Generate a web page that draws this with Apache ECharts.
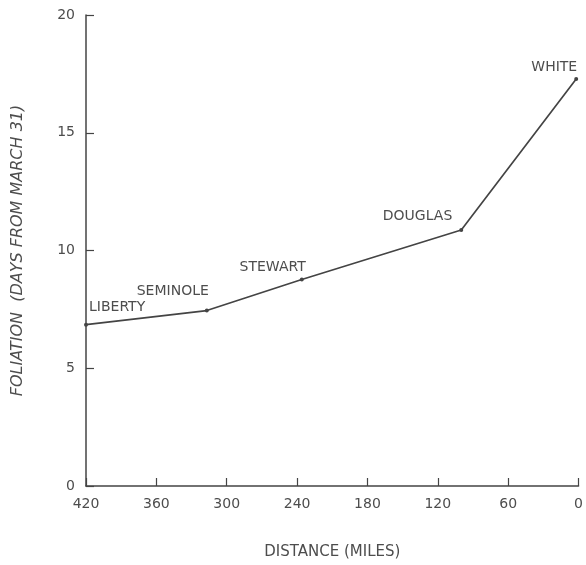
<!DOCTYPE html>
<html>
<head>
<meta charset="utf-8">
<script src="https://cdn.jsdelivr.net/npm/echarts@6/dist/echarts.min.js"></script>
<style>html,body{margin:0;padding:0;background:#fff;}#c{width:586px;height:565px;}</style>
</head>
<body>
<div id="c"></div>
<script>
// Data
var stations = ['LIBERTY', 'SEMINOLE', 'STEWART', 'DOUGLAS', 'WHITE'];
var distanceMiles = [420, 317, 236, 100, 2];
var foliationDays = [6.85, 7.45, 8.77, 10.87, 17.28];
var xTicks = [420, 360, 300, 240, 180, 120, 60, 0];
var yTicks = [0, 5, 10, 15, 20];

// Label placement (styling)
var labelPlacement = {
  'LIBERTY':  {align: 'left',  offset: [3, -17]},
  'SEMINOLE': {align: 'right', offset: [2, -19]},
  'STEWART':  {align: 'right', offset: [4, -12]},
  'DOUGLAS':  {align: 'right', offset: [-9, -14]},
  'WHITE':    {align: 'right', offset: [1, -12]}
};

var ink = '#444444';
var txt = '#4d4d4d';
var font = 'DejaVu Sans';

var seriesData = stations.map(function (s, i) {
  var p = labelPlacement[s];
  return {
    name: s,
    value: [distanceMiles[i], foliationDays[i]],
    label: {align: p.align, offset: p.offset}
  };
});

var chart = echarts.init(document.getElementById('c'), null, {renderer: 'canvas'});
chart.setOption({
  backgroundColor: '#ffffff',
  animation: false,
  grid: {left: 86, right: 7, top: 15, bottom: 72, containLabel: false},
  xAxis: {
    type: 'value',
    inverse: true,
    min: xTicks[xTicks.length - 1],
    max: xTicks[0],
    interval: 60,
    name: 'DISTANCE (MILES)',
    nameLocation: 'middle',
    nameGap: 59,
    nameTextStyle: {color: txt, fontFamily: font, fontSize: 15},
    axisLine: {show: true, onZero: false, lineStyle: {color: ink, width: 1.5}},
    axisTick: {show: true, inside: true, length: 8, lineStyle: {color: ink, width: 1.2}},
    axisLabel: {color: txt, fontFamily: font, fontSize: 14, margin: 11},
    splitLine: {show: false}
  },
  yAxis: {
    type: 'value',
    position: 'left',
    min: yTicks[0],
    max: yTicks[yTicks.length - 1],
    interval: 5,
    name: 'FOLIATION  (DAYS FROM MARCH 31)',
    nameLocation: 'middle',
    nameGap: 60,
    nameTextStyle: {color: txt, fontFamily: font, fontSize: 16, fontStyle: 'italic'},
    axisLine: {show: true, onZero: false, lineStyle: {color: ink, width: 1.5}},
    axisTick: {show: true, inside: true, length: 8, lineStyle: {color: ink, width: 1.2}},
    axisLabel: {color: txt, fontFamily: font, fontSize: 14, margin: 11},
    splitLine: {show: false}
  },
  series: [{
    type: 'line',
    data: seriesData,
    symbol: 'circle',
    symbolSize: 4,
    lineStyle: {color: ink, width: 1.7},
    itemStyle: {color: ink},
    label: {
      show: true,
      position: 'inside',
      verticalAlign: 'middle',
      color: txt,
      fontFamily: font,
      fontSize: 14,
      formatter: function (p) { return p.name; }
    }
  }]
});
</script>
</body>
</html>
